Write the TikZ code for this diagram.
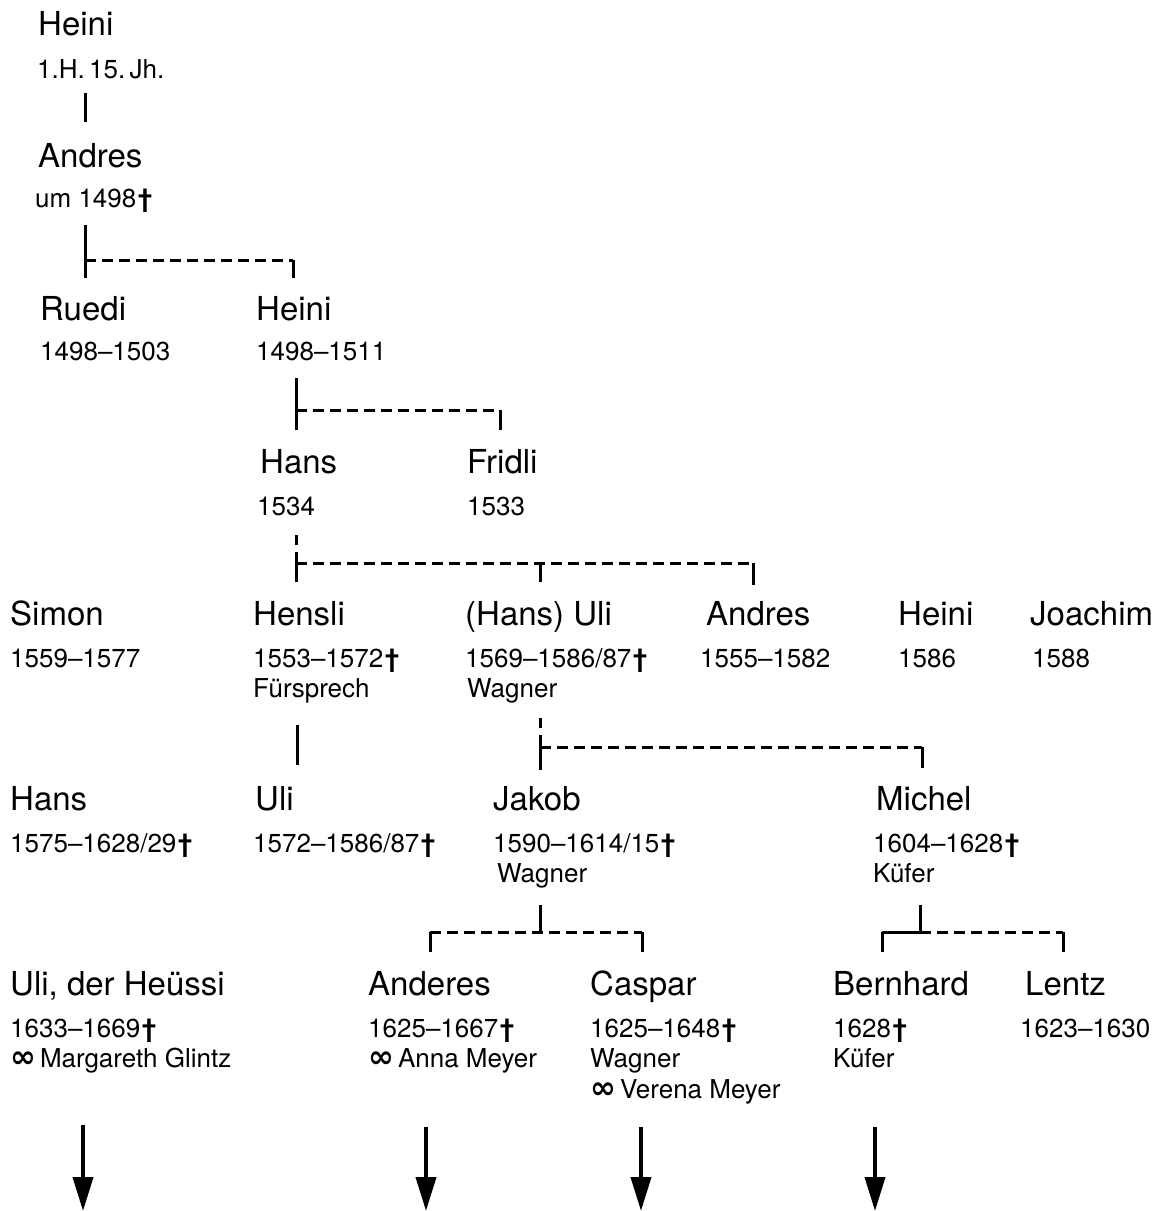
\documentclass[tikz,border=0pt]{standalone}
\usepackage{fontspec}
\setmainfont{TeX Gyre Heros}
\newfontfamily\symfont{DejaVu Sans}
\usepackage{tikz}
\usetikzlibrary{arrows.meta,positioning}

\newcommand{\dg}{\kern1.5pt{\bfseries†}}
\newcommand{\marr}{{\symfont\bfseries\fontsize{31}{30}\selectfont ∞}\kern4pt}

\begin{document}
\begin{tikzpicture}[x=1pt,y=-1pt,
  pname/.style={anchor=base west, inner sep=0pt, font=\fontsize{33}{36}\selectfont},
  pinfo/.style={anchor=base west, inner sep=0pt, font=\fontsize{26}{30}\selectfont},
  kin/.style={line width=3pt},
  sib/.style={line width=3pt, dash pattern=on 11pt off 6pt},
  desc/.style={line width=4pt, -{Triangle[length=34pt,width=20pt]}}]
\useasboundingbox (0,0) rectangle (1155,1211);
% generation 1 and 2
\node[pname] (heiniA) at (38,35) {Heini};
\node[pinfo] (heiniA-d) at (37,78) {1.H.\,15.\,Jh.};
\node[pname] (andresA) at (38,167) {Andres};
\node[pinfo] (andresA-d) at (35,207) {um 1498\dg};
% generation 3
\node[pname] (ruedi) at (40,320) {Ruedi};
\node[pinfo] (ruedi-d) at (40,360) {1498--1503};
\node[pname] (heiniB) at (256,320) {Heini};
\node[pinfo] (heiniB-d) at (256,360) {1498--1511};
% generation 4
\node[pname] (hansA) at (260,473) {Hans};
\node[pinfo] (hansA-d) at (257,515) {1534};
\node[pname] (fridli) at (467,473) {Fridli};
\node[pinfo] (fridli-d) at (467,515) {1533};
% generation 5
\node[pname] (simon) at (10,625) {Simon};
\node[pinfo] (simon-d) at (10,667) {1559--1577};
\node[pname] (hensli) at (253,625) {Hensli};
\node[pinfo] (hensli-d) at (253,667) {1553--1572\dg};
\node[pinfo] (hensli-j) at (253,697) {Fürsprech};
\node[pname] (hansuli) at (465,625) {(Hans) Uli};
\node[pinfo] (hansuli-d) at (465,667) {1569--1586/87\dg};
\node[pinfo] (hansuli-j) at (467,697) {Wagner};
\node[pname] (andresB) at (706,625) {Andres};
\node[pinfo] (andresB-d) at (700,667) {1555--1582};
\node[pname] (heiniC) at (898,625) {Heini};
\node[pinfo] (heiniC-d) at (898,667) {1586};
\node[pname] (joachim) at (1030,625) {Joachim};
\node[pinfo] (joachim-d) at (1032,667) {1588};
% generation 6
\node[pname] (hansB) at (10,810) {Hans};
\node[pinfo] (hansB-d) at (10,852) {1575--1628/29\dg};
\node[pname] (uliA) at (255,810) {Uli};
\node[pinfo] (uliA-d) at (253,852) {1572--1586/87\dg};
\node[pname] (jakob) at (493,810) {Jakob};
\node[pinfo] (jakob-d) at (493,852) {1590--1614/15\dg};
\node[pinfo] (jakob-j) at (497,882) {Wagner};
\node[pname] (michel) at (876,810) {Michel};
\node[pinfo] (michel-d) at (873,852) {1604--1628\dg};
\node[pinfo] (michel-j) at (873,882) {Küfer};
% generation 7
\node[pname] (uliB) at (10,995) {Uli, der Heüssi};
\node[pinfo] (uliB-d) at (10,1037) {1633--1669\dg};
\node[pinfo] (uliB-m) at (10,1067) {\marr Margareth Glintz};
\node[pname] (anderes) at (368,995) {Anderes};
\node[pinfo] (anderes-d) at (368,1037) {1625--1667\dg};
\node[pinfo] (anderes-m) at (368,1067) {\marr Anna Meyer};
\node[pname] (caspar) at (590,995) {Caspar};
\node[pinfo] (caspar-d) at (590,1037) {1625--1648\dg};
\node[pinfo] (caspar-j) at (590,1067) {Wagner};
\node[pinfo] (caspar-m) at (590,1098) {\marr Verena Meyer};
\node[pname] (bernhard) at (833,995) {Bernhard};
\node[pinfo] (bernhard-d) at (833,1037) {1628\dg};
\node[pinfo] (bernhard-j) at (833,1067) {Küfer};
\node[pname] (lentz) at (1025,995) {Lentz};
\node[pinfo] (lentz-d) at (1020,1037) {1623--1630};
% bracket points
\foreach \n/\x/\y in {a1/85/93, a2/85/122,
    b1/85/225, b2/85/278, b3/85/260, b4/293/260, b5/293/278,
    c1/296/378, c2/296/430, c3/296/410, c4/500/410, c5/500/430,
    d1/296/535, d2/296/545, d3/296/552, d4/296/582, d5/296/563,
    d6/540/563, d7/540/582, d8/753/563, d9/753/585,
    e1/297/725, e2/297/765,
    f1/540/718, f2/540/728, f3/540/735, f4/540/770, f5/540/747,
    f6/922/747, f7/922/768,
    g1/540/905, g2/540/932, g3/430/932, g4/430/952, g5/642/932, g6/642/952,
    h1/920/905, h2/920/932, h3/882/932, h4/882/952, h5/1063/932, h6/1063/952,
    k1/83/1125, k2/83/1211, k3/426/1127, k4/426/1211,
    k5/641/1127, k6/641/1211, k7/875/1127, k8/875/1211}
  \coordinate (\n) at (\x,\y);
\draw[kin] (a1) -- (a2);
\draw[kin] (b1) -- (b2);
\draw[sib] (b3) -- (b4);
\draw[kin] (b4) -- (b5);
\draw[kin] (c1) -- (c2);
\draw[sib] (c3) -- (c4);
\draw[kin] (c4) -- (c5);
\draw[kin] (d1) -- (d2);
\draw[kin] (d3) -- (d4);
\draw[sib] (d5) -- (d8);
\draw[kin] (d6) -- (d7);
\draw[kin] (d8) -- (d9);
\draw[kin] (e1) -- (e2);
\draw[kin] (f1) -- (f2);
\draw[kin] (f3) -- (f4);
\draw[sib] (f5) -- (f6);
\draw[kin] (f6) -- (f7);
\draw[kin] (g1) -- (g2);
\draw[sib] (g3) -- (g5);
\draw[kin] (g3) -- (g4);
\draw[kin] (g5) -- (g6);
\draw[kin] (h1) -- (h2);
\draw[kin] (h3) -- (h2);
\draw[sib] (h2) -- (h5);
\draw[kin] (h3) -- (h4);
\draw[kin] (h5) -- (h6);
% lines going on
\draw[desc] (k1) -- (k2);
\draw[desc] (k3) -- (k4);
\draw[desc] (k5) -- (k6);
\draw[desc] (k7) -- (k8);
\end{tikzpicture}
\end{document}
